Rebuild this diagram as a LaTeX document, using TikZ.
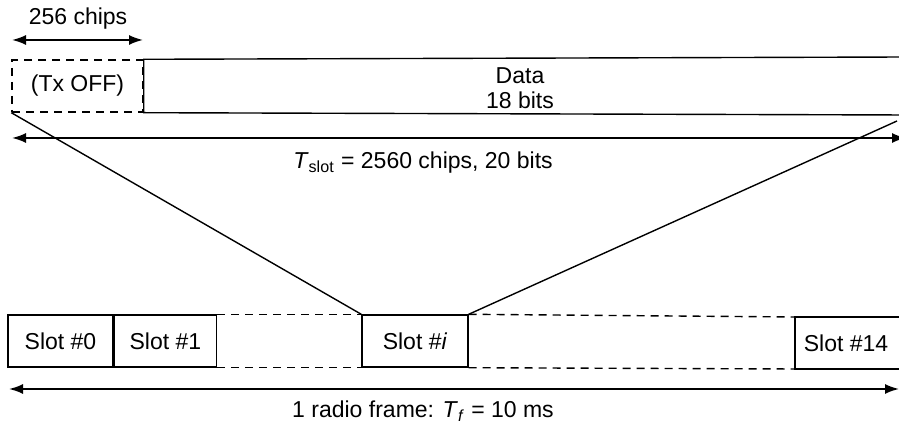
\documentclass[tikz,border=0pt]{standalone}
\usepackage{fontspec}
\setmainfont{Liberation Sans}
\usetikzlibrary{arrows.meta,positioning}

\tikzset{
  slotbox/.style={draw,line width=0.7pt,minimum height=26pt,inner sep=0pt},
  gapline/.style={line width=0.7pt,dash pattern=on 4pt off 3pt},
  span/.style={line width=0.9pt,{Latex[length=7pt,width=5pt]}-{Latex[length=7pt,width=5pt]}},
}

\begin{document}
\begin{tikzpicture}[x=0.5pt,y=-0.5pt,font=\fontsize{11.5}{13.5}\selectfont,
  every node/.style={align=center}]
  \useasboundingbox (0,0) rectangle (899,426);

  % one slot
  \node[slotbox,dash pattern=on 4pt off 3pt,minimum width=65.5pt] (txoff) at (77.5,86) {(Tx OFF)};
  \coordinate (dataNE) at (906,57);
  \coordinate (dataSE) at (906,115);
  \draw[line width=0.7pt] (dataNE) -- (txoff.north east) -- (txoff.south east) -- (dataSE);
  \node (data) at (520,88) {Data\\[-1pt]18 bits};

  \coordinate (chipsL) at (12,40);
  \coordinate (chipsR) at (143,40);
  \draw[span] (chipsL) -- (chipsR);
  \node (chips) at (78,19) {256 chips};

  \coordinate (slotL) at (12,138);
  \coordinate (slotR) at (906,138);
  \draw[span] (slotL) -- (slotR);
  \node (tslot) at (423,163) {\textit{T}\textsubscript{slot} = 2560 chips, 20 bits};

  % radio frame
  \node[slotbox,minimum width=52.5pt] (s0) at (60.5,341) {Slot \#0};
  \node[slotbox,minimum width=51pt,right=0pt of s0] (s1) {Slot \#1};
  \node[slotbox,minimum width=53pt] (si) at (415,341) {Slot \#\textit{i}};
  \node (s14) at (846,343) {Slot \#14};
  \coordinate (s14NW) at (795,317);
  \coordinate (s14SW) at (795,369);
  \draw[line width=0.7pt] (906,317) -- (s14NW) -- (s14SW) -- (906,369);
  \draw[gapline] (s1.north east) -- (si.north west);
  \draw[gapline] (s1.south east) -- (si.south west);
  \draw[gapline] (si.north east) -- (s14NW);
  \draw[gapline] (si.south east) -- (s14SW);

  % zoom lines
  \draw[line width=0.7pt] (txoff.south west) -- (si.north west);
  \coordinate (dataEnd) at (897,121);
  \draw[line width=0.7pt] (dataEnd) -- (si.north east);

  \coordinate (frameL) at (9,389);
  \coordinate (frameR) at (899,389);
  \draw[span] (frameL) -- (frameR);
  \node (frame) at (423,411) {1 radio frame: \textit{T}\textsubscript{\textit{f}} = 10 ms};
\end{tikzpicture}
\end{document}
